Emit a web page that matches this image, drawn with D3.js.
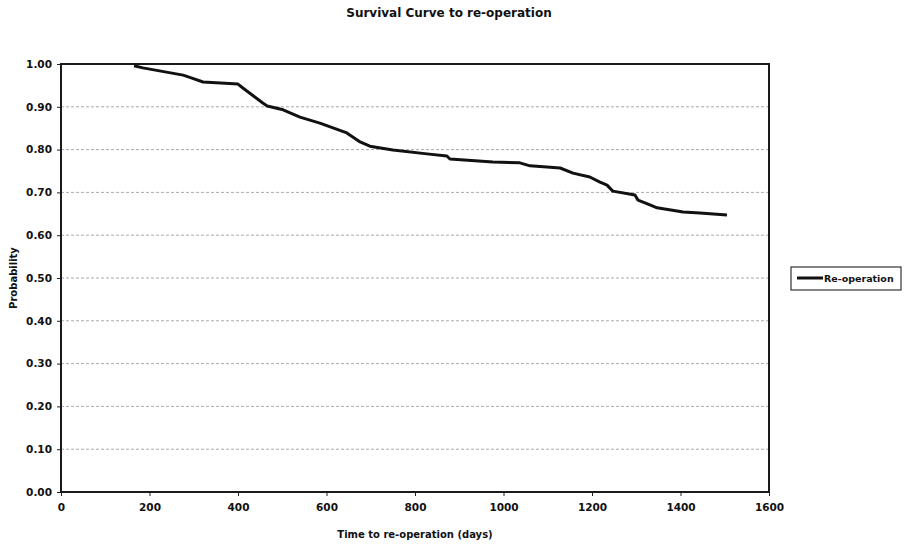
<!DOCTYPE html>
<html>
<head>
<meta charset="utf-8">
<script src="https://cdn.jsdelivr.net/npm/d3@7"></script>
<style>
  body { margin: 0; background: #fff; }
  text { font-family: "DejaVu Sans", Arial, sans-serif; font-weight: bold; fill: #111; }
</style>
</head>
<body>
<svg id="chart" width="907" height="544"></svg>
<script>
const svg = d3.select("#chart");
const width = +svg.attr("width");
const height = +svg.attr("height");

const margin = { top: 64, right: 138, bottom: 52, left: 61 };

// survival curve
const days = [165, 185, 276, 296, 321, 400, 411, 456, 466, 502, 540, 585, 646, 676, 698, 750, 827, 872, 879,
  976, 1037, 1060, 1128, 1157, 1195, 1218, 1234, 1247, 1297, 1304, 1331, 1347, 1406, 1444, 1505];
const prob = [0.996, 0.991, 0.974, 0.967, 0.958, 0.953, 0.944, 0.909, 0.902, 0.893, 0.876, 0.862, 0.839, 0.818, 0.808, 0.799, 0.790, 0.785, 0.778,
  0.771, 0.769, 0.762, 0.757, 0.745, 0.736, 0.724, 0.717, 0.703, 0.694, 0.682, 0.671, 0.664, 0.654, 0.652, 0.647];

const xTicks = [0, 200, 400, 600, 800, 1000, 1200, 1400, 1600];
const yTicks = [0, 0.1, 0.2, 0.3, 0.4, 0.5, 0.6, 0.7, 0.8, 0.9, 1.0];

const seriesName = "Re-operation";
const title = "Survival Curve to re-operation";
const xLabel = "Time to re-operation (days)";
const yLabel = "Probability";

const innerWidth = width - margin.left - margin.right;
const innerHeight = height - margin.top - margin.bottom;

const x = d3.scaleLinear().domain([0, 1600]).range([0, innerWidth]);
const y = d3.scaleLinear().domain([0, 1]).range([innerHeight, 0]);

const g = svg.append("g")
  .attr("transform", `translate(${margin.left},${margin.top})`);

// gridlines
g.append("g")
  .selectAll("line")
  .data(yTicks.filter(d => d > 0 && d < 1))
  .join("line")
  .attr("x1", 0)
  .attr("x2", innerWidth)
  .attr("y1", d => y(d))
  .attr("y2", d => y(d))
  .attr("stroke", "#aaa")
  .attr("stroke-width", 1)
  .attr("stroke-dasharray", "3,2");

// axes
const xAxis = g.append("g")
  .attr("transform", `translate(0,${innerHeight})`)
  .call(d3.axisBottom(x).tickValues(xTicks).tickFormat(d3.format("d")).tickSize(4).tickPadding(8));

const yAxis = g.append("g")
  .call(d3.axisLeft(y).tickValues(yTicks).tickFormat(d3.format(".2f")).tickSize(4).tickPadding(5));

[xAxis, yAxis].forEach(a => {
  a.select(".domain").remove();
  a.selectAll("line").attr("stroke", "#222");
  a.selectAll("text").attr("font-size", 10.5).attr("fill", "#111")
    .style("font-family", "'DejaVu Sans', Arial, sans-serif").style("font-weight", "bold");
});

// plot border
g.append("rect")
  .attr("x", 0)
  .attr("y", 0)
  .attr("width", innerWidth)
  .attr("height", innerHeight)
  .attr("fill", "none")
  .attr("stroke", "#1a1a1a")
  .attr("stroke-width", 2);

// the curve
const data = days.map((d, i) => ({ day: d, p: prob[i] }));
const line = d3.line()
  .x(d => x(d.day))
  .y(d => y(d.p));

g.append("path")
  .datum(data)
  .attr("fill", "none")
  .attr("stroke", "#111")
  .attr("stroke-width", 3)
  .attr("stroke-linejoin", "round")
  .attr("d", line);

// title and labels
svg.append("text")
  .attr("x", 449)
  .attr("y", 17)
  .attr("text-anchor", "middle")
  .attr("font-size", 12)
  .text(title);

svg.append("text")
  .attr("x", 415)
  .attr("y", 538)
  .attr("text-anchor", "middle")
  .attr("font-size", 10)
  .text(xLabel);

svg.append("text")
  .attr("transform", `translate(17,${margin.top + innerHeight / 2}) rotate(-90)`)
  .attr("text-anchor", "middle")
  .attr("font-size", 10)
  .text(yLabel);

// legend
const legend = svg.append("g").attr("transform", "translate(791,267)");
legend.append("rect")
  .attr("width", 110)
  .attr("height", 23)
  .attr("fill", "#fff")
  .attr("stroke", "#333")
  .attr("stroke-width", 1.2);
legend.append("line")
  .attr("x1", 6)
  .attr("x2", 32)
  .attr("y1", 11)
  .attr("y2", 11)
  .attr("stroke", "#111")
  .attr("stroke-width", 3);
legend.append("text")
  .attr("x", 33)
  .attr("y", 15)
  .attr("font-size", 9.5)
  .text(seriesName);
</script>
</body>
</html>
